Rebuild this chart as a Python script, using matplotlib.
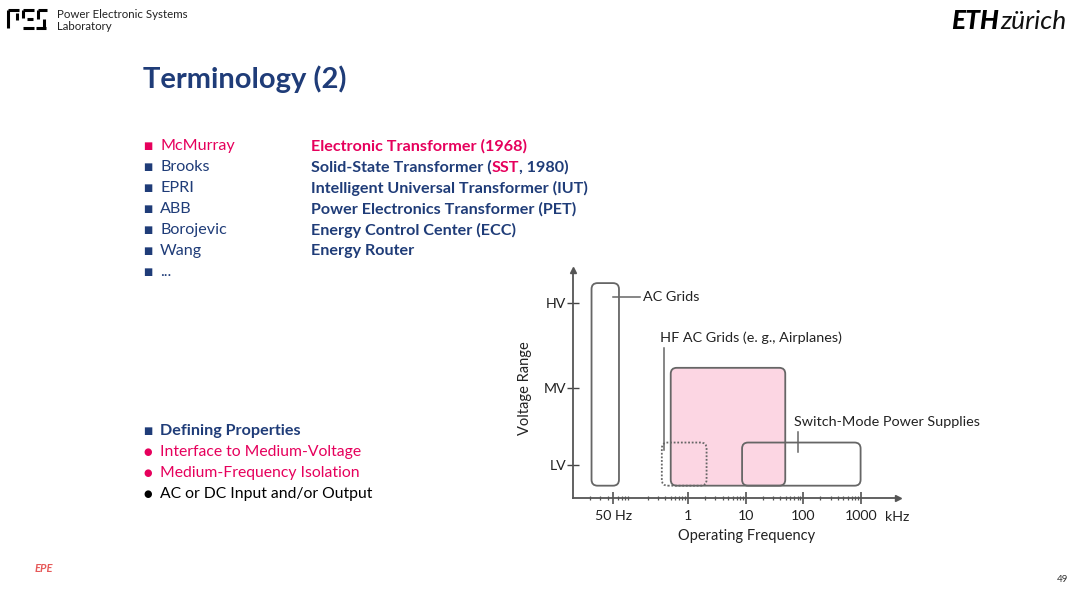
import numpy as np
import matplotlib
matplotlib.use('Agg')
import matplotlib.pyplot as plt
from matplotlib.patches import FancyBboxPatch
from matplotlib.transforms import IdentityTransform
from matplotlib.ticker import FixedLocator, NullFormatter

plt.rcParams['font.family'] = ['Lato', 'DejaVu Sans']

NAVY = '#1f3c78'
PINK = '#e6005c'
GREY = '#666666'

# ---- slide text ---------------------------------------------------------
names = ['McMurray', 'Brooks', 'EPRI', 'ABB', 'Borojevic', 'Wang', '...']
terms = ['Electronic Transformer (1968)',
         'Solid-State Transformer (SST, 1980)',
         'Intelligent Universal Transformer (IUT)',
         'Power Electronics Transformer (PET)',
         'Energy Control Center (ECC)',
         'Energy Router',
         '']
properties = ['Defining Properties',
              'Interface to Medium-Voltage',
              'Medium-Frequency Isolation',
              'AC or DC Input and/or Output']

# ---- chart data ---------------------------------------------------------
freq_ticks = [0.05, 1, 10, 100, 1000]          # kHz
freq_labels = ['50 Hz', '1', '10', '100', '1000']
volt_levels = [1.0, 2.0, 3.1]
volt_labels = ['LV', 'MV', 'HV']

# name, f_min, f_max (kHz), v_min, v_max
box_names = ['AC Grids', 'SSTs', 'HF AC Grids', 'SMPS']
box_fmin = [0.021, 0.5, 0.35, 8.7]
box_fmax = [0.063, 49, 2.1, 1000]
box_vmin = [0.73, 0.73, 0.73, 0.73]
box_vmax = [3.36, 2.26, 1.29, 1.29]

fig = plt.figure(figsize=(10.8, 5.93), dpi=100)

# background axes in pixel units for the slide
bg = fig.add_axes([0, 0, 1, 1])
bg.set_xlim(0, 1080)
bg.set_ylim(593, 0)
bg.axis('off')

# PES logo (rough)
segs = [[(8, 10), (19, 10)], [(8, 10), (8, 28)], [(17, 13), (17, 20)],
        [(23, 10), (34, 10)], [(23, 10), (23, 18)], [(27, 19), (33, 19)], [(23, 28), (34, 28)],
        [(38, 10), (47, 10)], [(38, 10), (38, 19)], [(44, 19), (44, 28)], [(36, 28), (46, 28)]]
for s in segs:
    (x0, y0), (x1, y1) = s
    bg.plot([x0, x1], [y0, y1], color='black', lw=2.2, solid_capstyle='butt')
bg.text(57, 14, 'Power Electronic Systems', fontsize=8.3, va='center', color='#222222')
bg.text(57, 26, 'Laboratory', fontsize=8.3, va='center', color='#222222')

eth = bg.text(951, 21, 'ETH', fontsize=19, fontweight='black', style='italic',
              va='center', color='black')
bg.annotate('zürich', xy=(1, 0), xycoords=eth, xytext=(1, 0), textcoords='offset points',
            fontsize=19, style='italic', fontweight='normal', va='bottom', color='#111111')

bg.text(143, 79, 'Terminology (2)', fontsize=21, fontweight='bold', color=NAVY, va='center')

fig.canvas.draw()
rend = fig.canvas.get_renderer()

row_y = 146
for i, (n, t) in enumerate(zip(names, terms)):
    y = row_y + 21 * i
    c = PINK if i == 0 else NAVY
    bg.text(143, y, '■', fontsize=7, color=c, va='center', family='DejaVu Sans')
    bg.text(160, y, n, fontsize=11.6, color=c, va='center')
    if i == 1:
        # three pieces on a common baseline
        yb = y + 5
        x = 311
        for piece, pc in [('Solid-State Transformer (', NAVY), ('SST', PINK), (', 1980)', NAVY)]:
            tx = bg.text(x, yb, piece, fontsize=11.6, fontweight='bold', color=pc,
                         va='baseline')
            ext = tx.get_window_extent(rend)
            x = x + ext.width
    elif t:
        bg.text(311, y, t, fontsize=11.6, fontweight='bold', color=c, va='center')

prop_y = 431
prop_col = [NAVY, PINK, PINK, 'black']
for i, (p, c) in enumerate(zip(properties, prop_col)):
    y = prop_y + 21 * i
    mark = '■' if i == 0 else '●'
    bg.text(143, y, mark, fontsize=7, color=c, va='center', family='DejaVu Sans')
    bg.text(160, y, p, fontsize=11.6 if i == 0 else 11.3, color=c, va='center',
            fontweight='bold' if i == 0 else 'normal')

bg.text(1063, 580, '49', fontsize=7, va='center', ha='center', color='#333333')
bg.text(44, 568, 'EPE', fontsize=8, color='#e03030', style='italic', fontweight='bold',
        ha='center', va='center', alpha=0.8)

# ---- chart --------------------------------------------------------------
ax = fig.add_axes([573 / 1080, 95 / 593, 325 / 1080, 228 / 593])
ax.set_xscale('log')
ax.set_xlim(0.01, 4470)
ax.set_ylim(0.57, 3.53)
ax.patch.set_alpha(0)
for sp in ['top', 'right']:
    ax.spines[sp].set_visible(False)
for sp in ['left', 'bottom']:
    ax.spines[sp].set_color('#555555')
    ax.spines[sp].set_linewidth(1.3)
ax.plot(1, 0, '>', color='#555555', ms=5, transform=ax.transAxes, clip_on=False)
ax.plot(0, 1, '^', color='#555555', ms=5, transform=ax.transAxes, clip_on=False)

minor = [m * 10.0 ** e for e in range(-2, 3) for m in range(2, 10)]
ax.xaxis.set_major_locator(FixedLocator(freq_ticks))
ax.xaxis.set_minor_locator(FixedLocator(minor))
ax.xaxis.set_minor_formatter(NullFormatter())
ax.set_xticklabels(freq_labels)
ax.set_yticks(volt_levels)
ax.set_yticklabels(volt_labels)
ax.tick_params(axis='x', which='major', direction='inout', length=9, width=1.1,
               color='#444444', labelsize=10.2, pad=4, labelcolor='#222222')
ax.tick_params(axis='x', which='minor', direction='inout', length=3.5, width=0.9,
               color='#555555')
ax.tick_params(axis='y', direction='inout', length=8, width=1.0, color='#444444',
               labelsize=10.2, pad=1, labelcolor='#222222')
ax.text(0.997, -0.083, 'kHz', transform=ax.transAxes, ha='center', va='center',
        fontsize=10.2, color='#222222')
ax.set_xlabel('Operating Frequency', fontsize=10.5, color='#222222')
ax.xaxis.set_label_coords(0.535, -0.135)
ax.set_ylabel('Voltage Range', fontsize=10.5, color='#222222')
ax.yaxis.set_label_coords(-0.125, 0.48)


def box(i, face, ls='-', z=2):
    p0 = ax.transData.transform((box_fmin[i], box_vmin[i]))
    p1 = ax.transData.transform((box_fmax[i], box_vmax[i]))
    r = FancyBboxPatch(p0, p1[0] - p0[0], p1[1] - p0[1],
                       boxstyle='round,pad=0,rounding_size=6',
                       transform=IdentityTransform(), facecolor=face,
                       edgecolor=GREY, lw=1.3, linestyle=ls, zorder=z)
    fig.add_artist(r)


box(0, 'none')
box(1, '#fcd6e3', z=1.5)
box(2, 'none', ls=(0, (1, 1)))
box(3, 'none')

# annotation leaders
ax.plot([0.05, 0.147], [3.18, 3.18], color=GREY, lw=1.1)
ax.text(0.165, 3.18, 'AC Grids', fontsize=10.4, va='center', color='#222222')
ax.plot([0.38, 0.38], [2.52, 1.19], color=GREY, lw=1.1)
ax.text(0.33, 2.65, 'HF AC Grids (e. g., Airplanes)', fontsize=10.4, va='center',
        color='#222222')
ax.plot([82, 82], [1.43, 1.17], color=GREY, lw=1.1)
ax.text(69, 1.56, 'Switch-Mode Power Supplies', fontsize=10.4, va='center',
        color='#222222')
ax.text(4.8, 1.49, 'SSTs', fontsize=10.4, fontweight='bold', va='center', ha='center',
        color='#222222')

fig.savefig('out.png', dpi=100)
